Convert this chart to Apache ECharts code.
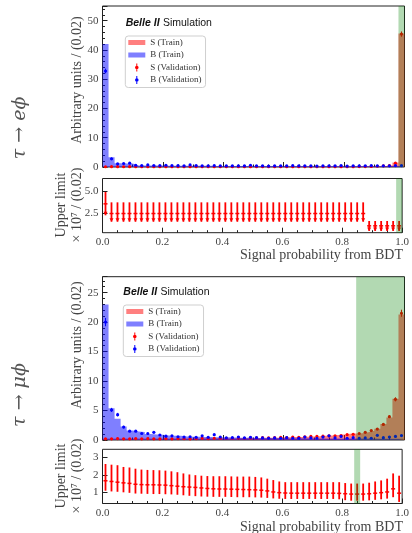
<!DOCTYPE html>
<html>
<head>
<meta charset="utf-8">
<title>BDT output</title>
<script src="https://cdn.jsdelivr.net/npm/echarts@6/dist/echarts.min.js"></script>
<style>
html, body { margin: 0; padding: 0; background: #fff; }
#chart { width: 412px; height: 533px; }
</style>
</head>
<body>
<div id="chart"></div>
<script>
// 50 bins of width 0.02 on the BDT output [0, 1]
var binWidth = 0.02;
var xTicks = [0, 0.2, 0.4, 0.6, 0.8, 1.0];

// ---- tau -> e phi ----
var sTrainE = [0.1, 0.1, 0.1, 0.1, 0.1, 0.1, 0.1, 0.1, 0.1, 0.1,
  0.1, 0.1, 0.1, 0.1, 0.1, 0.1, 0.1, 0.1, 0.1, 0.1,
  0.1, 0.1, 0.1, 0.1, 0.1, 0.1, 0.1, 0.1, 0.1, 0.1,
  0.1, 0.1, 0.1, 0.1, 0.1, 0.1, 0.1, 0.1, 0.1, 0.1,
  0.12, 0.12, 0.14, 0.15, 0.18, 0.22, 0.35, 0.6, 1.5, 45.6];
var bTrainE = [42.0, 3.3, 1.25, 1.2, 1.2, 0.55, 0.55, 0.5, 0.5, 0.5,
  0.45, 0.45, 0.45, 0.4, 0.4, 0.4, 0.4, 0.4, 0.38, 0.38,
  0.36, 0.36, 0.35, 0.35, 0.35, 0.35, 0.34, 0.34, 0.33, 0.33,
  0.33, 0.32, 0.32, 0.32, 0.31, 0.31, 0.3, 0.3, 0.3, 0.3,
  0.3, 0.3, 0.3, 0.3, 0.3, 0.3, 0.3, 0.3, 0.3, 0.3];
var sValE = [0.08, 0.1, 0.1, 0.08, 0.1, 0.1, 0.1, 0.08, 0.1, 0.1,
  0.1, 0.1, 0.08, 0.1, 0.1, 0.1, 0.1, 0.1, 0.08, 0.1,
  0.1, 0.1, 0.1, 0.1, 0.1, 0.08, 0.1, 0.1, 0.1, 0.1,
  0.1, 0.1, 0.1, 0.1, 0.08, 0.1, 0.1, 0.1, 0.1, 0.1,
  0.12, 0.1, 0.15, 0.15, 0.2, 0.25, 0.4, 0.5, 1.3, 45.4];
var sValErrE = [0.05, 0.05, 0.05, 0.05, 0.05, 0.05, 0.05, 0.05, 0.05, 0.05,
  0.05, 0.05, 0.05, 0.05, 0.05, 0.05, 0.05, 0.05, 0.05, 0.05,
  0.05, 0.05, 0.05, 0.05, 0.05, 0.05, 0.05, 0.05, 0.05, 0.05,
  0.05, 0.05, 0.05, 0.05, 0.05, 0.05, 0.05, 0.05, 0.05, 0.05,
  0.05, 0.05, 0.05, 0.05, 0.05, 0.08, 0.1, 0.12, 0.3, 0.9];
var bValE = [32.8, 2.8, 1.1, 1.2, 1.3, 0.6, 0.5, 0.7, 0.5, 0.5,
  0.6, 0.5, 0.5, 0.4, 0.7, 0.5, 0.4, 0.4, 0.5, 0.4,
  0.4, 0.4, 0.4, 0.4, 0.6, 0.4, 0.4, 0.3, 0.4, 0.4,
  0.4, 0.5, 0.4, 0.4, 0.4, 0.3, 0.4, 0.4, 0.4, 0.5,
  0.3, 0.4, 0.4, 0.4, 0.5, 0.4, 0.4, 0.4, 0.5, 0.5];
var bValErrE = [0.8, 0.4, 0.2, 0.2, 0.2, 0.12, 0.12, 0.12, 0.12, 0.12,
  0.12, 0.12, 0.12, 0.12, 0.12, 0.12, 0.12, 0.12, 0.12, 0.12,
  0.12, 0.12, 0.12, 0.12, 0.12, 0.12, 0.12, 0.12, 0.12, 0.12,
  0.12, 0.12, 0.12, 0.12, 0.12, 0.12, 0.12, 0.12, 0.12, 0.12,
  0.12, 0.12, 0.12, 0.12, 0.12, 0.12, 0.12, 0.12, 0.12, 0.12];
// upper limit x 10^7 per bin: central, low, high
var ulMidE = [3.6, 2.5, 2.5, 2.5, 2.5, 2.5, 2.5, 2.5, 2.5, 2.5,
  2.5, 2.5, 2.5, 2.5, 2.5, 2.5, 2.5, 2.5, 2.5, 2.5,
  2.5, 2.5, 2.5, 2.5, 2.5, 2.5, 2.5, 2.5, 2.5, 2.5,
  2.5, 2.5, 2.5, 2.5, 2.5, 2.5, 2.5, 2.5, 2.5, 2.5,
  2.5, 2.5, 2.5, 2.5, 1.1, 1.1, 1.1, 1.1, 1.1, 1.1];
var ulLoE = [2.3, 1.57, 1.57, 1.57, 1.57, 1.57, 1.57, 1.57, 1.57, 1.57,
  1.57, 1.57, 1.57, 1.57, 1.57, 1.57, 1.57, 1.57, 1.57, 1.57,
  1.57, 1.57, 1.57, 1.57, 1.57, 1.57, 1.57, 1.57, 1.57, 1.57,
  1.57, 1.57, 1.57, 1.57, 1.57, 1.57, 1.57, 1.57, 1.57, 1.57,
  1.57, 1.57, 1.57, 1.57, 0.52, 0.52, 0.52, 0.52, 0.52, 0.52];
var ulHiE = [4.95, 3.77, 3.77, 3.77, 3.77, 3.77, 3.77, 3.77, 3.77, 3.77,
  3.77, 3.77, 3.77, 3.77, 3.77, 3.77, 3.77, 3.77, 3.77, 3.77,
  3.77, 3.77, 3.77, 3.77, 3.77, 3.77, 3.77, 3.77, 3.77, 3.77,
  3.77, 3.77, 3.77, 3.77, 3.77, 3.77, 3.77, 3.77, 3.77, 3.77,
  3.77, 3.77, 3.77, 3.77, 1.65, 1.65, 1.65, 1.65, 1.65, 1.65];
var cutE = [0.98, 1.0];
var yTicksUlE = [2.5, 5.0];

// ---- tau -> mu phi ----
var sTrainM = [0.25, 0.25, 0.25, 0.25, 0.25, 0.25, 0.25, 0.25, 0.25, 0.25,
  0.25, 0.25, 0.25, 0.25, 0.25, 0.25, 0.3, 0.3, 0.3, 0.3,
  0.3, 0.3, 0.35, 0.35, 0.35, 0.35, 0.4, 0.4, 0.4, 0.45,
  0.45, 0.5, 0.5, 0.55, 0.6, 0.65, 0.7, 0.75, 0.85, 0.95,
  1.05, 1.1, 1.15, 1.3, 1.55, 1.9, 2.7, 3.8, 7.0, 21.3];
var bTrainM = [23.0, 5.4, 3.6, 2.3, 1.6, 1.45, 1.35, 1.0, 0.95, 0.9,
  0.75, 0.72, 0.7, 0.6, 0.55, 0.55, 0.5, 0.5, 0.48, 0.45,
  0.45, 0.42, 0.4, 0.4, 0.38, 0.36, 0.35, 0.35, 0.33, 0.32,
  0.3, 0.3, 0.3, 0.28, 0.28, 0.27, 0.27, 0.26, 0.26, 0.25,
  0.25, 0.25, 0.24, 0.24, 0.24, 0.23, 0.23, 0.23, 0.22, 0.22];
var sValM = [0.2, 0.2, 0.25, 0.2, 0.2, 0.25, 0.2, 0.25, 0.2, 0.2,
  0.25, 0.2, 0.25, 0.25, 0.2, 0.25, 0.3, 0.25, 0.3, 0.3,
  0.3, 0.3, 0.35, 0.3, 0.35, 0.35, 0.4, 0.35, 0.4, 0.45,
  0.4, 0.5, 0.45, 0.55, 0.6, 0.6, 0.65, 0.7, 0.7, 0.75,
  0.9, 0.97, 1.1, 1.3, 1.6, 1.85, 2.65, 3.95, 6.9, 21.5];
var sValErrM = [0.05, 0.05, 0.05, 0.05, 0.05, 0.05, 0.05, 0.05, 0.05, 0.05,
  0.05, 0.05, 0.05, 0.05, 0.05, 0.05, 0.05, 0.05, 0.05, 0.05,
  0.05, 0.05, 0.05, 0.05, 0.05, 0.05, 0.05, 0.05, 0.05, 0.05,
  0.05, 0.05, 0.05, 0.05, 0.05, 0.05, 0.05, 0.05, 0.05, 0.08,
  0.08, 0.08, 0.1, 0.1, 0.12, 0.15, 0.18, 0.22, 0.35, 0.6];
var bValM = [20.0, 5.1, 4.3, 2.2, 1.5, 1.5, 1.1, 1.1, 1.3, 0.85,
  0.65, 0.7, 0.55, 0.5, 0.55, 0.45, 0.7, 0.45, 0.9, 0.5,
  0.35, 0.4, 0.5, 0.35, 0.45, 0.4, 0.35, 0.3, 0.35, 0.3,
  0.4, 0.3, 0.3, 0.5, 0.35, 0.3, 0.5, 0.7, 0.35, 0.6,
  0.3, 0.4, 0.3, 0.35, 0.3, 0.8, 0.4, 0.5, 0.6, 0.75];
var bValErrM = [0.7, 0.35, 0.3, 0.2, 0.15, 0.15, 0.12, 0.12, 0.12, 0.12,
  0.12, 0.12, 0.12, 0.12, 0.12, 0.12, 0.12, 0.12, 0.12, 0.12,
  0.12, 0.12, 0.12, 0.12, 0.12, 0.12, 0.12, 0.12, 0.12, 0.12,
  0.12, 0.12, 0.12, 0.12, 0.12, 0.12, 0.12, 0.12, 0.12, 0.12,
  0.12, 0.12, 0.12, 0.12, 0.12, 0.12, 0.12, 0.12, 0.12, 0.12];
var ulMidM = [1.66, 1.62, 1.58, 1.54, 1.51, 1.46, 1.44, 1.43, 1.43, 1.42,
  1.41, 1.38, 1.35, 1.32, 1.3, 1.28, 1.25, 1.22, 1.2, 1.19,
  1.19, 1.18, 1.17, 1.16, 1.15, 1.14, 1.12, 1.08, 1.02, 0.98,
  0.96, 0.95, 0.95, 0.95, 0.95, 0.95, 0.95, 0.95, 0.95, 0.94,
  0.92, 0.9, 0.9, 0.9, 0.92, 0.95, 0.98, 1.02, 1.2, 0.95];
var ulLoM = [1.09, 1.05, 1.03, 1.0, 0.97, 0.93, 0.92, 0.91, 0.9, 0.9,
  0.89, 0.88, 0.86, 0.83, 0.8, 0.78, 0.76, 0.75, 0.74, 0.74,
  0.74, 0.73, 0.72, 0.72, 0.72, 0.71, 0.7, 0.68, 0.65, 0.63,
  0.62, 0.62, 0.62, 0.62, 0.62, 0.62, 0.62, 0.62, 0.62, 0.6,
  0.55, 0.52, 0.52, 0.52, 0.54, 0.57, 0.6, 0.64, 0.72, 0.45];
var ulHiM = [2.62, 2.58, 2.55, 2.45, 2.42, 2.35, 2.3, 2.28, 2.27, 2.26,
  2.24, 2.2, 2.15, 2.08, 2.02, 1.98, 1.95, 1.93, 1.92, 1.92,
  1.92, 1.91, 1.9, 1.9, 1.9, 1.88, 1.85, 1.78, 1.7, 1.62,
  1.58, 1.58, 1.58, 1.58, 1.58, 1.58, 1.58, 1.58, 1.58, 1.58,
  1.53, 1.5, 1.5, 1.5, 1.55, 1.62, 1.68, 1.78, 2.08, 1.95];
var cutM = [0.84, 1.0];
var cutUlM = [0.84, 0.86];
var yTicksUlM = [1, 2, 3];

var SERIF = '"Liberation Serif", "DejaVu Serif", serif';
var SANS = '"Liberation Sans", Arial, sans-serif';
var RED_FILL = 'rgba(255,0,0,0.5)';
var BLUE_FILL = 'rgba(0,0,255,0.5)';
var GREEN_FILL = 'rgba(0,128,0,0.3)';

// step histogram: left bin edges + closing point at 1.0
function stepData(vals) {
  var d = vals.map(function (v, i) { return [i * binWidth, v]; });
  d.push([1, vals[vals.length - 1]]);
  return d;
}
function centerData() {
  var cols = Array.prototype.slice.call(arguments);
  return cols[0].map(function (v, i) {
    return [(i + 0.5) * binWidth].concat(cols.map(function (c) { return c[i]; }));
  });
}

function renderPoint(params, api) {
  var x = api.value(0), v = api.value(1), e = api.value(2);
  var p = api.coord([x, v]);
  var top = api.coord([x, v + e]);
  var bot = api.coord([x, v - e]);
  var color = api.visual('color');
  return {
    type: 'group',
    children: [
      { type: 'line', shape: { x1: p[0], y1: top[1], x2: p[0], y2: bot[1] }, style: { stroke: color, lineWidth: 1 } },
      { type: 'circle', shape: { cx: p[0], cy: p[1], r: 1.6 }, style: { fill: color } }
    ]
  };
}

function renderLimit(withArrow) {
  return function (params, api) {
    var x = api.value(0);
    var pm = api.coord([x, api.value(1)]);
    var pl = api.coord([x, api.value(2)]);
    var ph = api.coord([x, api.value(3)]);
    var kids = [
      { type: 'line', shape: { x1: pm[0], y1: ph[1], x2: pm[0], y2: pl[1] }, style: { stroke: '#f00', lineWidth: 1.8 } },
      { type: 'line', shape: { x1: pm[0] - 2, y1: pm[1], x2: pm[0] + 2, y2: pm[1] }, style: { stroke: '#f00', lineWidth: 1.5 } }
    ];
    if (withArrow) {
      kids.push({ type: 'polygon', shape: { points: [[pl[0] - 2, pl[1] - 3.5], [pl[0] + 2, pl[1] - 3.5], [pl[0], pl[1]]] }, style: { fill: '#f00' } });
    }
    return { type: 'group', children: kids };
  };
}

function renderBand(params, api) {
  var a = api.coord([api.value(0), 0]);
  var b = api.coord([api.value(1), 0]);
  var cs = params.coordSys;
  return { type: 'rect', shape: { x: a[0], y: cs.y, width: b[0] - a[0], height: cs.height }, style: { fill: GREEN_FILL } };
}

function histSeries(name, vals, color, gi) {
  return {
    name: name, type: 'line', step: 'end', symbol: 'none', xAxisIndex: gi, yAxisIndex: gi,
    data: stepData(vals), color: color, lineStyle: { width: 0 },
    areaStyle: { color: color, opacity: 1 }, z: 2, silent: true
  };
}
function pointSeries(name, vals, errs, color, gi) {
  return {
    name: name, type: 'custom', xAxisIndex: gi, yAxisIndex: gi, renderItem: renderPoint,
    encode: { x: 0, y: 1 }, data: centerData(vals, errs), itemStyle: { color: color }, z: 3, silent: true
  };
}
function bandSeries(range, gi) {
  return {
    type: 'custom', xAxisIndex: gi, yAxisIndex: gi, renderItem: renderBand,
    encode: { x: [0, 1], y: 2 }, data: [[range[0], range[1], 0]], z: 5, silent: true
  };
}
function limitSeries(mid, lo, hi, arrow, gi) {
  return {
    type: 'custom', xAxisIndex: gi, yAxisIndex: gi, renderItem: renderLimit(arrow),
    encode: { x: 0, y: [1, 2, 3] }, data: centerData(mid, lo, hi), z: 3, silent: true
  };
}

function xAxis(gi, labels) {
  return {
    type: 'value', gridIndex: gi, min: 0, max: 1, interval: 0.2,
    axisLine: { show: false },
    axisTick: { inside: true, length: 5, lineStyle: { color: '#222' } },
    minorTick: { show: true, splitNumber: 4, length: 2.5, lineStyle: { color: '#222' } },
    splitLine: { show: false },
    axisLabel: { show: labels, margin: 4, fontFamily: SERIF, fontSize: 11, color: '#444',
      formatter: function (v) { return v.toFixed(1); } }
  };
}
function yAxisMain(gi, max, interval) {
  return {
    type: 'value', gridIndex: gi, min: 0, max: max, interval: interval,
    axisLine: { show: false },
    axisTick: { inside: true, length: 5, lineStyle: { color: '#222' } },
    minorTick: { show: true, splitNumber: 5, length: 2.5, lineStyle: { color: '#222' } },
    splitLine: { show: false },
    axisLabel: { margin: 4, fontFamily: SERIF, fontSize: 11, color: '#444', showMaxLabel: false }
  };
}
function yAxisLimit(gi, min, max, ticks, digits) {
  return {
    type: 'value', gridIndex: gi, min: min, max: max,
    axisLine: { show: false },
    axisTick: { inside: true, length: 5, customValues: ticks, lineStyle: { color: '#222' } },
    splitLine: { show: false },
    axisLabel: { margin: 4, fontFamily: SERIF, fontSize: 11, color: '#444', customValues: ticks,
      formatter: function (v) { return v.toFixed(digits); } }
  };
}

var trainIcon = 'path://M0,0L0,0ZM0,3L17,3L17,8L0,8ZM17,11L17,11Z';
var valIcon = 'path://M0,0L0,0ZM8,1.5L9,1.5L9,9.5L8,9.5ZM6.7,5.5A1.8,1.8,0,1,1,10.3,5.5A1.8,1.8,0,1,1,6.7,5.5ZM17,11L17,11Z';
function legend(left, top) {
  return {
    orient: 'vertical', left: left, top: top, selectedMode: false,
    itemWidth: 17, itemHeight: 11, itemGap: 1.5, padding: [1, 4, 2, 3],
    borderColor: '#cfcfcf', borderWidth: 1, borderRadius: 3, backgroundColor: '#fff',
    itemStyle: { borderWidth: 0 },
    textStyle: { fontFamily: SERIF, fontSize: 9, color: '#333', lineHeight: 11 },
    data: [
      { name: 'S (Train)', icon: trainIcon, itemStyle: { color: RED_FILL } },
      { name: 'B (Train)', icon: trainIcon, itemStyle: { color: BLUE_FILL } },
      { name: 'S (Validation)', icon: valIcon, itemStyle: { color: '#ff0000' } },
      { name: 'B (Validation)', icon: valIcon, itemStyle: { color: '#0000ff' } }
    ]
  };
}

function gridBox(top, height) {
  return { left: 102.5, top: top, width: 302, height: height, show: true, borderColor: '#222', borderWidth: 1, backgroundColor: 'transparent' };
}

function rotText(x, y, text, size) {
  return { type: 'text', x: x, y: y, rotation: Math.PI / 2, silent: true,
    style: { text: text, fontFamily: SERIF, fontSize: size, fill: '#444', align: 'center', verticalAlign: 'middle', lineHeight: 16 } };
}
function decayText(x, y, text) {
  return { type: 'text', x: x, y: y, rotation: Math.PI / 2, silent: true,
    style: { text: text, fontFamily: '"DejaVu Serif", serif', fontSize: 19, fontStyle: 'italic', fill: '#555', align: 'center', verticalAlign: 'middle' } };
}
function belleText(x, y) {
  return { type: 'text', x: x, y: y, silent: true,
    style: { text: '{b|Belle II} {n|Simulation}', verticalAlign: 'middle',
      rich: {
        b: { fontFamily: SANS, fontSize: 10.5, fontStyle: 'italic', fontWeight: 'bold', fill: '#111' },
        n: { fontFamily: SANS, fontSize: 10.5, fill: '#111' }
      } } };
}
function xTitle(y) {
  return { type: 'text', x: 403, y: y, silent: true,
    style: { text: 'Signal probability from BDT', fontFamily: SERIF, fontSize: 14, fill: '#444', align: 'right', verticalAlign: 'middle' } };
}

var chart = echarts.init(document.getElementById('chart'), null, { renderer: 'canvas' });
chart.setOption({
  animation: false,
  backgroundColor: '#fff',
  grid: [gridBox(6, 161), gridBox(178.5, 54.2), gridBox(276.7, 163.3), gridBox(449.3, 54.2)],
  xAxis: [xAxis(0, false), xAxis(1, true), xAxis(2, false), xAxis(3, true)],
  yAxis: [
    yAxisMain(0, 55, 10),
    yAxisLimit(1, 0.32, 6.48, yTicksUlE, 1),
    yAxisMain(2, 27.7, 5),
    yAxisLimit(3, 0.36, 3.46, yTicksUlM, 0)
  ],
  legend: [legend(125.3, 36), legend(123.3, 305)],
  series: [
    histSeries('S (Train)', sTrainE, RED_FILL, 0),
    histSeries('B (Train)', bTrainE, BLUE_FILL, 0),
    pointSeries('S (Validation)', sValE, sValErrE, '#ff0000', 0),
    pointSeries('B (Validation)', bValE, bValErrE, '#0000ff', 0),
    bandSeries(cutE, 0),
    limitSeries(ulMidE, ulLoE, ulHiE, true, 1),
    bandSeries(cutE, 1),
    histSeries('S (Train)', sTrainM, RED_FILL, 2),
    histSeries('B (Train)', bTrainM, BLUE_FILL, 2),
    pointSeries('S (Validation)', sValM, sValErrM, '#ff0000', 2),
    pointSeries('B (Validation)', bValM, bValErrM, '#0000ff', 2),
    bandSeries(cutM, 2),
    limitSeries(ulMidM, ulLoM, ulHiM, false, 3),
    bandSeries(cutUlM, 3)
  ],
  graphic: [
    decayText(20, 128, 'τ → eϕ'),
    decayText(20, 395, 'τ → μϕ'),
    rotText(77, 80, 'Arbitrary units / (0.02)', 14),
    rotText(77, 345, 'Arbitrary units / (0.02)', 14),
    rotText(69, 205, 'Upper limit\n× 10⁷ / (0.02)', 14),
    rotText(69, 476, 'Upper limit\n× 10⁷ / (0.02)', 14),
    xTitle(255),
    xTitle(527),
    belleText(125.7, 22.7),
    belleText(123.3, 291.7)
  ]
});
</script>
</body>
</html>
